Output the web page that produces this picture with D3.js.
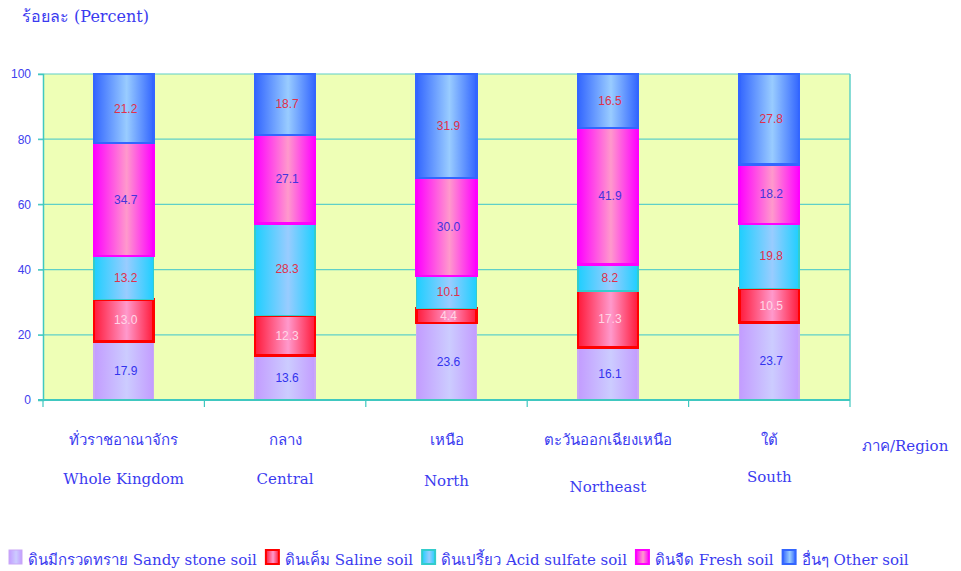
<!DOCTYPE html>
<html>
<head>
<meta charset="utf-8">
<script src="https://cdn.jsdelivr.net/npm/d3@7"></script>
<style>
  body { margin: 0; background: #fff; }
  svg text { font-family: "DejaVu Serif", "Liberation Serif", serif; }
  .num { font-family: "Liberation Sans", "DejaVu Sans", sans-serif; }
</style>
</head>
<body>
<script>
// categories and series
var regionsTh = ["ทั่วราชอาณาจักร", "กลาง", "เหนือ", "ตะวันออกเฉียงเหนือ", "ใต้"];
var regionsEn = ["Whole Kingdom", "Central", "North", "Northeast", "South"];
var seriesKeys = ["sandy", "saline", "acid", "fresh", "other"];
var seriesNames = ["ดินมีกรวดทราย Sandy stone soil", "ดินเค็ม Saline soil", "ดินเปรี้ยว Acid sulfate soil", "ดินจืด Fresh soil", "อื่นๆ Other soil"];
var sandy  = [17.9, 13.6, 23.6, 16.1, 23.7];
var saline = [13.0, 12.3, 4.4, 17.3, 10.5];
var acid   = [13.2, 28.3, 10.1, 8.2, 19.8];
var fresh  = [34.7, 27.1, 30.0, 41.9, 18.2];
var other  = [21.2, 18.7, 31.9, 16.5, 27.8];
var yTicks = [0, 20, 40, 60, 80, 100];

var W = 961, H = 571;
var plotL = 43, plotR = 850, plotT = 74, plotB = 400;

// colours per series: edge, centre, border, label
var styles = {
  sandy:  {edge: "#c39cff", mid: "#ccccff", stroke: "#c9a8f5", label: "#3333ee"},
  saline: {edge: "#ff1a3a", mid: "#ff99cc", stroke: "#ff0000", label: "#ffd6e6"},
  acid:   {edge: "#1ecfff", mid: "#99ccff", stroke: "#33cccc", label: "#e0304a"},
  fresh:  {edge: "#ff00ff", mid: "#ff99cc", stroke: "#ff00ff", label: "#4433dd"},
  other:  {edge: "#3366ff", mid: "#99ccff", stroke: "#3366ff", label: "#e0304a"}
};

var table = regionsEn.map(function (r, i) {
  return {region: r, sandy: sandy[i], saline: saline[i], acid: acid[i], fresh: fresh[i], other: other[i]};
});
var stacked = d3.stack().keys(seriesKeys)(table);

var svg = d3.select("body").append("svg").attr("width", W).attr("height", H);

var defs = svg.append("defs");
seriesKeys.forEach(function (k) {
  var g = defs.append("linearGradient").attr("id", "g-" + k)
    .attr("x1", "0%").attr("x2", "100%").attr("y1", "0%").attr("y2", "0%");
  g.append("stop").attr("offset", "0%").attr("stop-color", styles[k].edge);
  g.append("stop").attr("offset", "55%").attr("stop-color", styles[k].mid);
  g.append("stop").attr("offset", "100%").attr("stop-color", styles[k].edge);
});

var x = d3.scaleBand().domain(regionsEn).range([plotL, plotR]).paddingInner(0.63).paddingOuter(0.315);
var xOuter = d3.scaleBand().domain(regionsEn).range([plotL, plotR]);
var y = d3.scaleLinear().domain([0, 100]).range([plotB, plotT]);

// plot background
svg.append("rect").attr("x", plotL).attr("y", plotT)
  .attr("width", plotR - plotL).attr("height", plotB - plotT)
  .attr("fill", "#eeffb6");

// gridlines
svg.append("g").selectAll("line").data(yTicks).enter().append("line")
  .attr("x1", plotL - 5).attr("x2", plotR)
  .attr("y1", function (d) { return y(d); }).attr("y2", function (d) { return y(d); })
  .attr("stroke", "#5fd0c8").attr("stroke-width", 1.2);

// right border
svg.append("line").attr("x1", plotR).attr("x2", plotR).attr("y1", plotT).attr("y2", plotB)
  .attr("stroke", "#5fd0c8").attr("stroke-width", 1.5);

// y axis
var yAxis = svg.append("g").attr("transform", "translate(" + plotL + ",0)")
  .call(d3.axisLeft(y).tickValues(yTicks).tickSize(5).tickPadding(7));
yAxis.select(".domain").attr("stroke", "#40c8c0").attr("stroke-width", 1.5);
yAxis.selectAll(".tick line").attr("stroke", "#40c8c0");
yAxis.selectAll("text").attr("class", "num").attr("fill", "#4040ee").style("font-size", "12px");

// bars
var layers = svg.append("g").selectAll("g").data(stacked).enter().append("g");
layers.selectAll("rect").data(function (s) { return s.map(function (d) { return {key: s.key, d: d}; }); })
  .enter().append("rect")
  .attr("x", function (p) { return x(p.d.data.region); })
  .attr("width", x.bandwidth())
  .attr("y", function (p) { return y(p.d[1]); })
  .attr("height", function (p) { return y(p.d[0]) - y(p.d[1]); })
  .attr("fill", function (p) { return "url(#g-" + p.key + ")"; })
  .attr("stroke", function (p) { return styles[p.key].stroke; })
  .attr("stroke-width", function (p) { return (p.key === "saline" || p.key === "fresh" || p.key === "other") ? 2.5 : 1.5; })
  .attr("shape-rendering", "crispEdges");

// bar labels
layers.selectAll("text").data(function (s) { return s.map(function (d) { return {key: s.key, d: d}; }); })
  .enter().append("text")
  .attr("class", "num")
  .attr("x", function (p) { return x(p.d.data.region) + x.bandwidth() / 2 + 2; })
  .attr("y", function (p) { return (y(p.d[0]) + y(p.d[1])) / 2 + 4; })
  .attr("text-anchor", "middle")
  .attr("fill", function (p) { return styles[p.key].label; })
  .style("font-size", "12px")
  .text(function (p) { return (p.d[1] - p.d[0]).toFixed(1); });

// x axis
var xAxis = svg.append("g").attr("transform", "translate(0," + plotB + ")");
xAxis.append("line").attr("x1", plotL - 5).attr("x2", plotR).attr("y1", 0).attr("y2", 0)
  .attr("stroke", "#40c8c0").attr("stroke-width", 2);
var bounds = regionsEn.map(function (r) { return xOuter(r); }).concat([plotR]);
xAxis.selectAll(".tk").data(bounds).enter().append("line")
  .attr("x1", function (d) { return d; }).attr("x2", function (d) { return d; })
  .attr("y1", 0).attr("y2", 7).attr("stroke", "#40c8c0").attr("stroke-width", 1.2);

var catG = svg.append("g").selectAll("g").data(regionsEn).enter().append("g");
catG.append("text")
  .attr("x", function (d) { return xOuter(d) + xOuter.bandwidth() / 2; })
  .attr("y", 445).attr("text-anchor", "middle").attr("fill", "#3b3bf0").style("font-size", "15px")
  .text(function (d, i) { return regionsTh[i]; });
catG.append("text")
  .attr("x", function (d) { return xOuter(d) + xOuter.bandwidth() / 2; })
  .attr("y", function (d, i) { return [484, 484, 486, 492, 482][i]; })
  .attr("text-anchor", "middle").attr("fill", "#3b3bf0").style("font-size", "15px")
  .text(function (d) { return d; });

svg.append("text").attr("x", 862).attr("y", 451).attr("fill", "#3b3bf0").style("font-size", "15px")
  .text("ภาค/Region");

svg.append("text").attr("x", 22).attr("y", 22).attr("fill", "#3b3bf0").style("font-size", "16px")
  .text("ร้อยละ (Percent)");

// legend
var lg = svg.append("g");
var lx = 8;
seriesKeys.forEach(function (k, i) {
  lg.append("rect").attr("x", lx + 1).attr("y", 550).attr("width", 13).attr("height", 14)
    .attr("fill", "url(#g-" + k + ")").attr("stroke", styles[k].stroke)
    .attr("stroke-width", k === "sandy" ? 1 : 2);
  var t = lg.append("text").attr("x", lx + 20).attr("y", 565).attr("fill", "#3b3bf0")
    .style("font-size", "15px").text(seriesNames[i]);
  lx += 20 + t.node().getComputedTextLength() + 8;
});
</script>
</body>
</html>
